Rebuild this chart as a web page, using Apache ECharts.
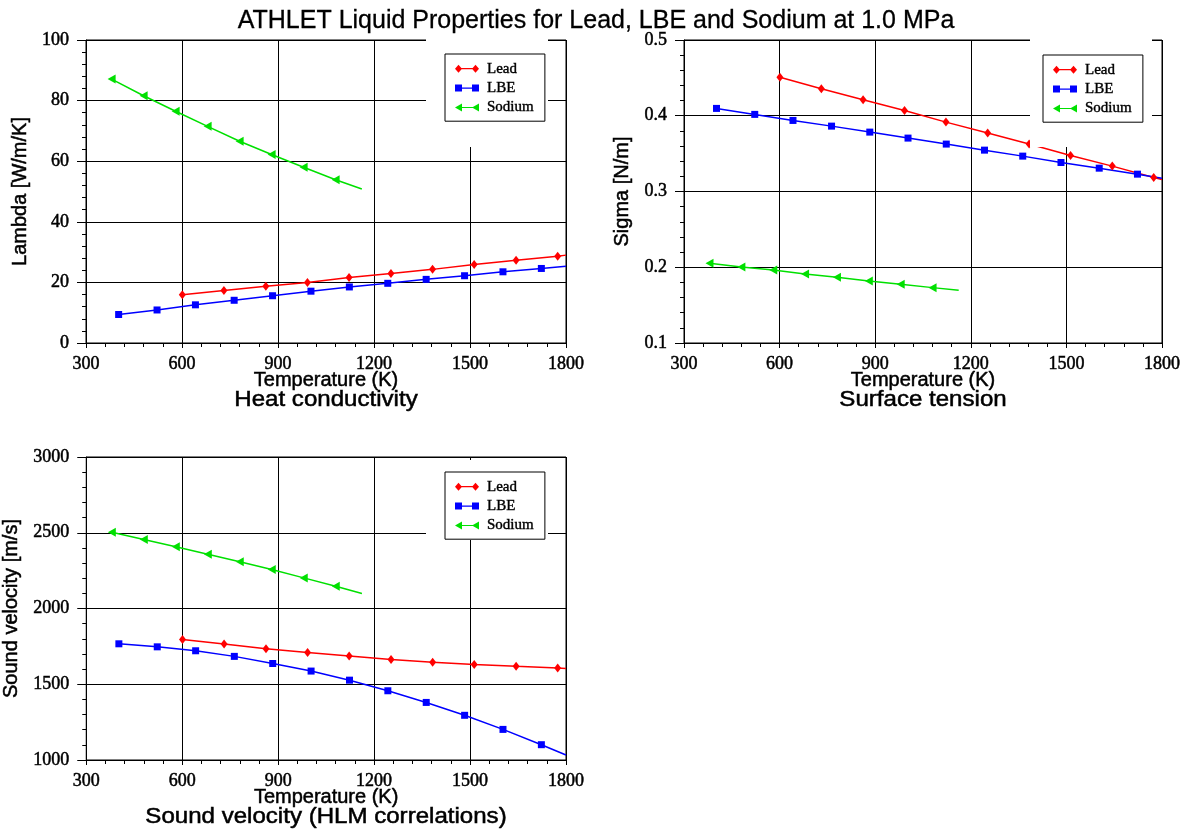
<!DOCTYPE html>
<html>
<head>
<meta charset="utf-8">
<script src="https://cdn.jsdelivr.net/npm/echarts@6/dist/echarts.min.js"></script>
<style>
html,body{margin:0;padding:0;background:#fff;}
#chart{width:1192px;height:832px;}
</style>
</head>
<body>
<div id="chart"></div>
<script>
// ---------- data (temperatures in K); last entry of each curve is its line end (no marker) ----------
var leadT = [601, 731, 862, 992, 1122, 1253, 1383, 1513, 1644, 1774, 1800];
var lbeT  = [402, 522, 642, 763, 883, 1003, 1123, 1243, 1363, 1483, 1603, 1723, 1800];
var naT   = [380, 480, 580, 680, 780, 880, 980, 1080, 1162];

// Heat conductivity [W/m/K]
var leadLambda = [15.9, 17.3, 18.7, 20.0, 21.6, 22.9, 24.3, 25.9, 27.3, 28.6, 29.0];
var lbeLambda  = [9.4, 10.9, 12.6, 14.1, 15.6, 17.1, 18.5, 19.7, 21.0, 22.2, 23.5, 24.6, 25.3];
var naLambda   = [87.1, 81.6, 76.5, 71.5, 66.6, 62.2, 58.0, 53.9, 50.8];

// Surface tension [N/m]
var leadSigma = [0.4507, 0.4357, 0.4211, 0.4070, 0.3916, 0.3771, 0.3626, 0.3476, 0.3335, 0.3185, 0.3158];
var lbeSigma  = [0.4097, 0.4018, 0.3938, 0.3863, 0.3784, 0.3705, 0.3626, 0.3546, 0.3467, 0.3383, 0.3308, 0.3229, 0.3176];
var naSigma   = [0.2053, 0.2004, 0.1965, 0.1912, 0.1868, 0.1819, 0.1775, 0.1731, 0.1696];

// Sound velocity [m/s]
var leadSound = [1796, 1765, 1734, 1710, 1686, 1664, 1646, 1631, 1618, 1607, 1604];
var lbeSound  = [1767, 1747, 1721, 1684, 1637, 1587, 1527, 1457, 1380, 1295, 1202, 1101, 1033];
var naSound   = [2503, 2455, 2407, 2358, 2308, 2257, 2202, 2147, 2099];

var seriesNames = ['Lead', 'LBE', 'Sodium'];
var chartTitle = 'ATHLET Liquid Properties for Lead, LBE and Sodium at 1.0 MPa';
var subTitles = ['Heat conductivity', 'Surface tension', 'Sound velocity (HLM correlations)'];
var xName = 'Temperature (K)';
var yNames = ['Lambda [W/m/K]', 'Sigma [N/m]', 'Sound velocity [m/s]'];
var yDecimals = [0, 1, 0];

// ---------- styling ----------
var RED = '#ff0000', BLUE = '#0000ff', GREEN = '#00e000';
var SERIF = '"Liberation Serif", "Times New Roman", serif';
var SANS = '"Liberation Sans", Arial, sans-serif';
var HEAVY = {textBorderColor: '#000', textBorderWidth: 0.5};
var triLeft = 'path://M0,5 L10,0 L10,10 Z';
var iconLead = 'path://M0,4 L3.5,0 L7,4 L3.5,8 Z M17,4 L20.5,0 L24,4 L20.5,8 Z M3.5,3.4 L20.5,3.4 L20.5,4.6 L3.5,4.6 Z';
var iconLBE  = 'path://M0,0.5 L7,0.5 L7,7.5 L0,7.5 Z M17,0.5 L24,0.5 L24,7.5 L17,7.5 Z M3.5,3.4 L20.5,3.4 L20.5,4.6 L3.5,4.6 Z';
var iconNa   = 'path://M0,4 L7,0 L7,8 Z M17,4 L24,0 L24,8 Z M3.5,3.4 L20.5,3.4 L20.5,4.6 L3.5,4.6 Z';

function ext(a, b) { var o = {}; for (var k in a) o[k] = a[k]; for (var k2 in b) o[k2] = b[k2]; return o; }

var grids = [
  {left: 86, top: 40, width: 480, height: 303},
  {left: 684, top: 40, width: 478, height: 303},
  {left: 86, top: 457, width: 480, height: 303}
];
var yRanges = [[0, 100, 20], [0.1, 0.5, 0.1], [1000, 3000, 500]];
var yNameGaps = [56, 52, 65];

function xAxisCfg(i) {
  return {
    type: 'value', gridIndex: i, min: 300, max: 1800, interval: 300,
    name: xName, nameLocation: 'middle', nameGap: 27, nameMoveOverlap: false,
    nameTextStyle: ext({fontFamily: SANS, fontSize: 20, color: '#000'}, HEAVY),
    axisLine: {show: true, lineStyle: {color: '#000', width: 1}},
    axisTick: {show: true, length: 5, lineStyle: {color: '#000'}},
    minorTick: {show: true, splitNumber: 5, length: 4, lineStyle: {color: '#000'}},
    axisLabel: ext({fontFamily: SERIF, fontSize: 18, color: '#000', margin: 12,
      formatter: function (v) { return String(Math.round(v)); }}, HEAVY),
    splitLine: {show: true, lineStyle: {color: '#000', width: 1}}
  };
}
function yAxisCfg(i) {
  var r = yRanges[i];
  return {
    type: 'value', gridIndex: i, min: r[0], max: r[1], interval: r[2],
    name: yNames[i], nameLocation: 'middle', nameGap: yNameGaps[i], nameMoveOverlap: false,
    nameTextStyle: ext({fontFamily: SANS, fontSize: 20, color: '#000'}, HEAVY),
    axisLine: {show: true, lineStyle: {color: '#000', width: 1}},
    axisTick: {show: true, length: 9, lineStyle: {color: '#000'}},
    minorTick: {show: true, splitNumber: 5, length: 4, lineStyle: {color: '#000'}},
    axisLabel: ext({fontFamily: SERIF, fontSize: 18, color: '#000', margin: 17,
      formatter: function (v) { return Number(v).toFixed(yDecimals[i]); }}, HEAVY),
    splitLine: {show: true, lineStyle: {color: '#000', width: 1}}
  };
}

function pts(ts, vs) {
  return ts.map(function (t, k) {
    var d = {value: [t, vs[k]]};
    if (k === ts.length - 1) d.symbol = 'none';
    return d;
  });
}
function mkSeries(name, gi, ts, vs, color, symbol, size) {
  return {
    name: name, type: 'line', xAxisIndex: gi, yAxisIndex: gi,
    data: pts(ts, vs), symbol: symbol, symbolSize: size, showSymbol: true,
    lineStyle: {color: color, width: 1.5}, itemStyle: {color: color},
    emphasis: {disabled: true}, animation: false, z: 2
  };
}

var series = [];
var sets = [[leadLambda, lbeLambda, naLambda], [leadSigma, lbeSigma, naSigma], [leadSound, lbeSound, naSound]];
for (var g = 0; g < 3; g++) {
  series.push(mkSeries(seriesNames[0], g, leadT, sets[g][0], RED, 'diamond', [7, 9]));
  series.push(mkSeries(seriesNames[1], g, lbeT, sets[g][1], BLUE, 'rect', 7));
  series.push(mkSeries(seriesNames[2], g, naT, sets[g][2], GREEN, triLeft, [8, 9]));
}

var legendPos = [{left: 445, top: 54}, {left: 1043, top: 55}, {left: 445, top: 472}];
var legends = legendPos.map(function (p) {
  return {
    left: p.left, top: p.top, orient: 'vertical',
    backgroundColor: '#fff', borderColor: '#000', borderWidth: 1,
    padding: [7, 11, 6, 10], itemWidth: 24, itemHeight: 8, itemGap: 4,
    textStyle: ext({fontFamily: SERIF, fontSize: 15, color: '#000', lineHeight: 15, padding: [0, 0, 0, 3]},
      {textBorderColor: '#000', textBorderWidth: 0.4}),
    data: [{name: 'Lead', icon: iconLead}, {name: 'LBE', icon: iconLBE}, {name: 'Sodium', icon: iconNa}],
    selectedMode: false, z: 5
  };
});

var covers = [
  {x: 426, y: 35, w: 122, h: 112},
  {x: 1030, y: 35, w: 122, h: 112},
  {x: 426, y: 460, w: 122, h: 80}
];
var graphics = covers.map(function (c) {
  return {type: 'rect', z: 3, silent: true, shape: {x: c.x, y: c.y, width: c.w, height: c.h}, style: {fill: '#fff'}};
});
var subPos = [[326, 400], [923, 400], [326, 817]];
subTitles.forEach(function (t, i) {
  graphics.push({type: 'text', z: 5, x: subPos[i][0], y: subPos[i][1], scaleX: 1.12, scaleY: 1,
    style: {x: 0, y: 0, text: t, textAlign: 'center', textVerticalAlign: 'middle', font: '21.5px ' + SANS, fill: '#000',
      stroke: '#000', lineWidth: 0.5}});
});

var chart = echarts.init(document.getElementById('chart'), null, {renderer: 'canvas'});
chart.setOption({
  backgroundColor: '#fff',
  animation: false,
  title: {text: chartTitle, left: 'center', top: 4,
    textStyle: ext({fontFamily: SANS, fontSize: 25, fontWeight: 'normal', color: '#000'},
      {textBorderColor: '#000', textBorderWidth: 0.3})},
  grid: grids.map(function (gr) {
    return {left: gr.left, top: gr.top, width: gr.width, height: gr.height, show: true,
      borderColor: '#000', borderWidth: 1, backgroundColor: 'transparent', containLabel: false};
  }),
  xAxis: [xAxisCfg(0), xAxisCfg(1), xAxisCfg(2)],
  yAxis: [yAxisCfg(0), yAxisCfg(1), yAxisCfg(2)],
  legend: legends,
  series: series,
  graphic: {elements: graphics}
});
</script>
</body>
</html>
